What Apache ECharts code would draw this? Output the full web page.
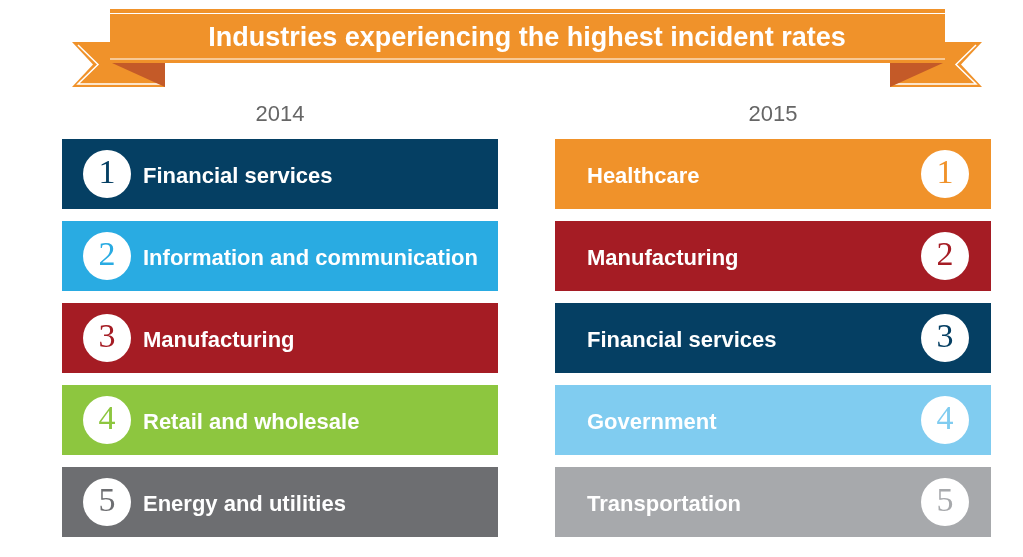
<!DOCTYPE html>
<html>
<head>
<meta charset="utf-8">
<script src="https://cdn.jsdelivr.net/npm/echarts@6/dist/echarts.min.js"></script>
<style>html,body{margin:0;padding:0;background:#fff}#c{width:1023px;height:557px}</style>
</head>
<body>
<div id="c"></div>
<script>
const chartTitle = 'Industries experiencing the highest incident rates';
const years = ['2014', '2015'];
const ranks = [1, 2, 3, 4, 5];
const industries2014 = ['Financial services', 'Information and communication', 'Manufacturing', 'Retail and wholesale', 'Energy and utilities'];
const industries2015 = ['Healthcare', 'Manufacturing', 'Financial services', 'Government', 'Transportation'];
const colors2014 = ['#053f63', '#29abe2', '#a51c24', '#8dc63f', '#6d6e71'];
const colors2015 = ['#f0922a', '#a51c24', '#053f63', '#80ccf0', '#a7a9ac'];
const fullValue = 1;

const orange = '#f0922a';
const fold = '#c45a28';
const numFont = '"Liberation Serif", "DejaVu Serif", serif';
const txtFont = '"Liberation Sans", Arial, sans-serif';

function circleStyle(color) {
  return { width: 48, height: 48, lineHeight: 52, borderRadius: 24, backgroundColor: '#fff',
    align: 'center', verticalAlign: 'middle', color: color, fontSize: 34, fontFamily: numFont };
}
const nameStyle = { color: '#fff', fontSize: 22, fontWeight: 'bold', fontFamily: txtFont, verticalAlign: 'middle', lineHeight: 48 };

const data2014 = ranks.map((r, i) => ({
  value: fullValue,
  itemStyle: { color: colors2014[i] },
  label: { show: true, position: 'insideLeft', distance: 21,
    formatter: '{c|' + r + '}{t|' + industries2014[i] + '}',
    rich: { c: circleStyle(colors2014[i]), t: Object.assign({}, nameStyle, { padding: [6, 0, 0, 12] }) } }
}));
const data2015 = ranks.map((r, i) => ({
  value: fullValue,
  itemStyle: { color: colors2015[i] },
  label: { show: true, position: 'insideLeft', distance: 32,
    formatter: '{t|' + industries2015[i] + '}{c|' + r + '}',
    rich: { c: circleStyle(colors2015[i]), t: Object.assign({}, nameStyle, { width: 334, padding: [6, 0, 0, 0] }) } }
}));

const chart = echarts.init(document.getElementById('c'), null, { renderer: 'canvas' });

function axisX(idx, name) {
  return { gridIndex: idx, type: 'value', min: 0, max: fullValue, position: 'top',
    name: name, nameLocation: 'middle', nameGap: 7,
    nameTextStyle: { color: '#666', fontSize: 22, fontFamily: txtFont },
    axisLine: { show: false }, axisTick: { show: false }, axisLabel: { show: false }, splitLine: { show: false } };
}
function axisY(idx) {
  return { gridIndex: idx, type: 'category', data: ranks, inverse: true,
    axisLine: { show: false }, axisTick: { show: false }, axisLabel: { show: false } };
}

chart.setOption({
  animation: false,
  backgroundColor: '#fff',
  grid: [
    { left: 62, width: 436, top: 133, height: 410 },
    { left: 555, width: 436, top: 133, height: 410 }
  ],
  xAxis: [axisX(0, years[0]), axisX(1, years[1])],
  yAxis: [axisY(0), axisY(1)],
  series: [
    { type: 'bar', xAxisIndex: 0, yAxisIndex: 0, barWidth: 70, data: data2014 },
    { type: 'bar', xAxisIndex: 1, yAxisIndex: 1, barWidth: 70, data: data2015 }
  ],
  graphic: [
    // left tail
    { type: 'polygon', shape: { points: [[72, 42], [165, 42], [165, 87], [72, 87], [93, 64.5]] }, style: { fill: orange } },
    { type: 'polyline', shape: { points: [[78, 45], [98, 64.5], [78, 84], [163, 84]] }, style: { stroke: '#fff', lineWidth: 1.5, fill: null } },
    { type: 'polygon', shape: { points: [[112, 63], [165, 63], [165, 87]] }, style: { fill: fold } },
    // right tail
    { type: 'polygon', shape: { points: [[982, 42], [890, 42], [890, 87], [982, 87], [961, 64.5]] }, style: { fill: orange } },
    { type: 'polyline', shape: { points: [[976, 45], [956, 64.5], [976, 84], [892, 84]] }, style: { stroke: '#fff', lineWidth: 1.5, fill: null } },
    { type: 'polygon', shape: { points: [[943, 63], [890, 63], [890, 87]] }, style: { fill: fold } },
    // main banner
    { type: 'rect', shape: { x: 110, y: 9, width: 835, height: 54 }, style: { fill: orange } },
    { type: 'line', shape: { x1: 110, y1: 13.5, x2: 945, y2: 13.5 }, style: { stroke: '#fff', lineWidth: 1.2 } },
    { type: 'line', shape: { x1: 110, y1: 59, x2: 945, y2: 59 }, style: { stroke: '#fff', lineWidth: 1.2 } },
    { type: 'text', x: 527, y: 39, style: { text: chartTitle, fill: '#fff', font: 'bold 27px "Liberation Sans", Arial, sans-serif', textAlign: 'center', textVerticalAlign: 'middle' } }
  ]
});
</script>
</body>
</html>
